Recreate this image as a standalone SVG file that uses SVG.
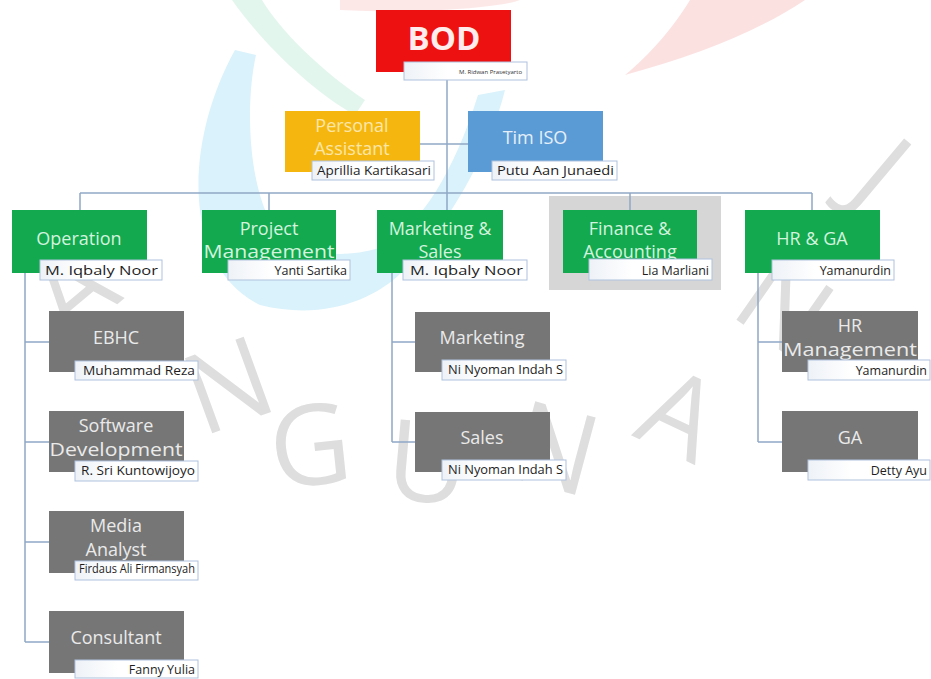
<svg xmlns="http://www.w3.org/2000/svg" width="931" height="679" viewBox="0 0 931 679">
<defs>
<linearGradient id="ng" x1="0" y1="0" x2="1" y2="0">
<stop offset="0" stop-color="#EEF2F7"/>
<stop offset="0.35" stop-color="#FFFFFF"/>
<stop offset="1" stop-color="#FFFFFF"/>
</linearGradient>
<style>
.wm{font-family:"Open Sans","Liberation Sans",sans-serif;font-size:112px;fill:#DEDEDE;text-anchor:middle}
.lbl{font-family:"Open Sans","Noto Sans","Liberation Sans",sans-serif;font-size:18px;text-anchor:middle}
.g2{fill:#12A94F}
.g2t{fill:#D3F3DE}
.g3{fill:#767676}
.g3t{fill:#EAEAEA}
.nb{fill:url(#ng);stroke:#AFC2DD;stroke-width:1}
.nt{font-family:"Open Sans","Noto Sans","Liberation Sans",sans-serif;font-size:12.5px;fill:#1E1E1E;text-anchor:end}
.cn{stroke:#8FA8C6;stroke-width:1.5;fill:none}
</style>
</defs>
<rect width="931" height="679" fill="#FFFFFF"/>
<g id="watermark">
<path d="M340,0 H520 C500,8 420,14 340,10 Z" fill="#FDE8E8"/>
<path d="M690,0 H805 C760,30 700,55 625,75 C650,55 675,25 690,0 Z" fill="#FCE1E1"/>
<path d="M232,0 C260,40 310,90 355,115 L365,100 C320,70 280,30 262,0 Z" fill="#E3F6EE"/>
<path d="M235,50 C185,140 180,265 260,305 C320,320 372,302 402,272 C452,222 490,150 505,90 L478,95 C455,170 420,228 380,248 C330,262 288,252 266,212 C248,170 246,100 256,55 Z" fill="#DAF2FB"/>
<text class="wm" transform="translate(72,290) rotate(-40)" y="40">A</text>
<text class="wm" transform="translate(228,385) rotate(-20)" y="40">N</text>
<text class="wm" transform="translate(310,445) rotate(-6)" y="40">G</text>
<text class="wm" transform="translate(428,462) rotate(5)" y="40">U</text>
<text class="wm" transform="translate(555,448) rotate(15)" y="40">N</text>
<text class="wm" transform="translate(680,414) rotate(25)" y="40">A</text>
<text class="wm" transform="translate(785,305) rotate(35)" y="40">N</text>
<text class="wm" transform="translate(882,172) rotate(40)" y="40">J</text>
</g>
<rect x="549" y="196" width="172" height="94" fill="#D6D6D6"/>
<g id="connectors">
<path class="cn" d="M447,80 V193"/>
<path class="cn" d="M420,144 H468"/>
<path class="cn" d="M80,193 H812"/>
<path class="cn" d="M80,193 V211 M269,193 V210 M447,193 V211 M630,193 V211 M812,193 V211"/>
<path class="cn" d="M25,272 V642 M25,342 H49 M25,442 H49 M25,542 H49 M25,642 H49"/>
<path class="cn" d="M392,272 V442 M392,342 H415 M392,442 H415"/>
<path class="cn" d="M758,272 V442 M758,342 H782 M758,442 H782"/>
</g>
<g id="bod">
<rect x="376" y="10" width="135" height="62" fill="#EE1111"/>
<text x="444" y="50" font-family="'Open Sans','Liberation Sans',sans-serif" font-size="33" font-weight="700" fill="#FFEDED" text-anchor="middle">BOD</text>
<rect class="nb" x="404" y="62" width="123" height="18"/>
<text x="522" y="74" font-family="'Open Sans','Liberation Sans',sans-serif" font-size="6" fill="#333" text-anchor="end">M. Ridwan Prasetyarto</text>
</g>
<g id="personal-assistant">
<rect x="285" y="111" width="135" height="61" fill="#F5B70F"/>
<text class="lbl" x="352" y="132" fill="#FBE6A8">Personal</text>
<text class="lbl" x="352" y="155" fill="#FBE6A8">Assistant</text>
<rect class="nb" x="312" y="161" width="122" height="19"/>
<text class="nt" x="431" y="175" textLength="114" lengthAdjust="spacingAndGlyphs">Aprillia Kartikasari</text>
</g>
<g id="tim-iso">
<rect x="468" y="111" width="135" height="61" fill="#5B9BD5"/>
<text class="lbl" x="535" y="144" fill="#E6EFF9">Tim ISO</text>
<rect class="nb" x="492" y="161" width="125" height="19"/>
<text class="nt" x="614" y="175" textLength="117" lengthAdjust="spacingAndGlyphs">Putu Aan Junaedi</text>
</g>
<g id="operation">
<rect class="g2" x="12" y="210" width="135" height="63"/>
<text class="lbl g2t" x="79" y="245">Operation</text>
<rect class="nb" x="40" y="260" width="122" height="20"/>
<text class="nt" x="158" y="275" textLength="113" lengthAdjust="spacingAndGlyphs">M. Iqbaly Noor</text>
</g>
<g id="project-management">
<rect class="g2" x="202" y="210" width="134" height="63"/>
<text class="lbl g2t" x="269" y="235">Project</text>
<text class="lbl g2t" x="269" y="258" textLength="131" lengthAdjust="spacingAndGlyphs">Management</text>
<rect class="nb" x="228" y="260" width="122" height="20"/>
<text class="nt" x="347" y="275">Yanti Sartika</text>
</g>
<g id="marketing-sales">
<rect class="g2" x="377" y="210" width="126" height="63"/>
<text class="lbl g2t" x="440" y="235">Marketing &amp;</text>
<text class="lbl g2t" x="440" y="258">Sales</text>
<rect class="nb" x="403" y="260" width="124" height="20"/>
<text class="nt" x="523" y="275" textLength="113" lengthAdjust="spacingAndGlyphs">M. Iqbaly Noor</text>
</g>
<g id="finance-accounting">
<rect class="g2" x="563" y="210" width="134" height="63"/>
<text class="lbl g2t" x="630" y="235">Finance &amp;</text>
<text class="lbl g2t" x="630" y="258">Accounting</text>
<rect class="nb" x="589" y="259" width="123" height="21"/>
<text class="nt" x="709" y="275">Lia Marliani</text>
</g>
<g id="hr-ga">
<rect class="g2" x="745" y="210" width="135" height="63"/>
<text class="lbl g2t" x="812" y="245">HR &amp; GA</text>
<rect class="nb" x="772" y="260" width="122" height="20"/>
<text class="nt" x="891" y="275">Yamanurdin</text>
</g>
<g id="ebhc">
<rect class="g3" x="49" y="311" width="135" height="61"/>
<text class="lbl g3t" x="116" y="344">EBHC</text>
<rect class="nb" x="75" y="361" width="123" height="19"/>
<text class="nt" x="195" y="375" textLength="112" lengthAdjust="spacingAndGlyphs">Muhammad Reza</text>
</g>
<g id="software-development">
<rect class="g3" x="49" y="411" width="135" height="61"/>
<text class="lbl g3t" x="116" y="432">Software</text>
<text class="lbl g3t" x="116" y="456" textLength="133" lengthAdjust="spacingAndGlyphs">Development</text>
<rect class="nb" x="75" y="461" width="123" height="20"/>
<text class="nt" x="195" y="475" textLength="114" lengthAdjust="spacingAndGlyphs">R. Sri Kuntowijoyo</text>
</g>
<g id="media-analyst">
<rect class="g3" x="49" y="511" width="135" height="62"/>
<text class="lbl g3t" x="116" y="532">Media</text>
<text class="lbl g3t" x="116" y="556">Analyst</text>
<rect class="nb" x="75" y="561" width="123" height="19"/>
<text class="nt" x="195" y="573" font-size="7" textLength="116" lengthAdjust="spacingAndGlyphs">Firdaus Ali Firmansyah</text>
</g>
<g id="consultant">
<rect class="g3" x="49" y="611" width="135" height="62"/>
<text class="lbl g3t" x="116" y="644">Consultant</text>
<rect class="nb" x="75" y="660" width="123" height="18"/>
<text class="nt" x="195" y="674">Fanny Yulia</text>
</g>
<g id="marketing">
<rect class="g3" x="415" y="312" width="135" height="60"/>
<text class="lbl g3t" x="482" y="344">Marketing</text>
<rect class="nb" x="442" y="360" width="124" height="20"/>
<text class="nt" x="563" y="374" font-size="10" textLength="115" lengthAdjust="spacingAndGlyphs">Ni Nyoman Indah S</text>
</g>
<g id="sales">
<rect class="g3" x="415" y="412" width="135" height="60"/>
<text class="lbl g3t" x="482" y="444">Sales</text>
<rect class="nb" x="442" y="460" width="124" height="20"/>
<text class="nt" x="563" y="474" font-size="10" textLength="115" lengthAdjust="spacingAndGlyphs">Ni Nyoman Indah S</text>
</g>
<g id="hr-management">
<rect class="g3" x="782" y="311" width="136" height="61"/>
<text class="lbl g3t" x="850" y="332">HR</text>
<text class="lbl g3t" x="850" y="356" textLength="134" lengthAdjust="spacingAndGlyphs">Management</text>
<rect class="nb" x="808" y="360" width="122" height="20"/>
<text class="nt" x="927" y="375">Yamanurdin</text>
</g>
<g id="ga">
<rect class="g3" x="782" y="411" width="136" height="61"/>
<text class="lbl g3t" x="850" y="444">GA</text>
<rect class="nb" x="808" y="460" width="122" height="20"/>
<text class="nt" x="927" y="475">Detty Ayu</text>
</g>
</svg>
